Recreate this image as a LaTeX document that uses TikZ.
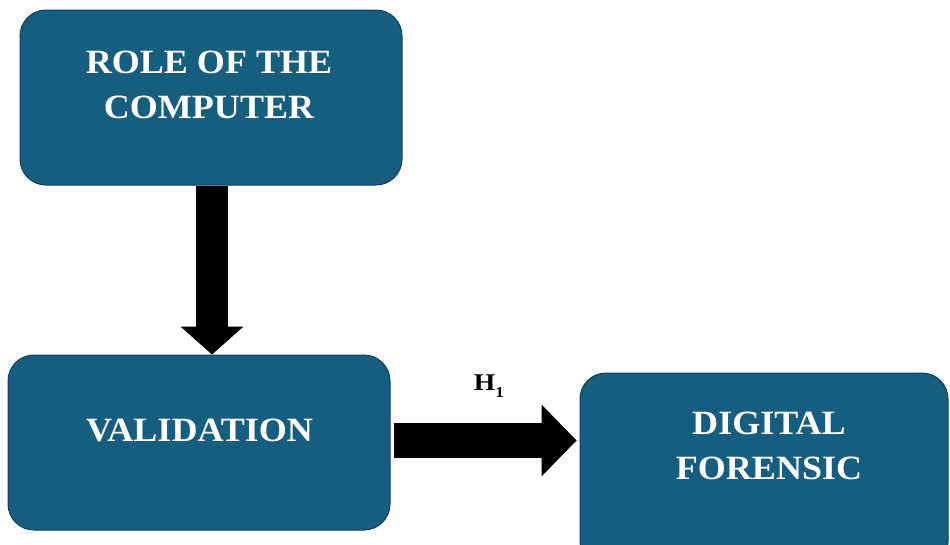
\documentclass[tikz,border=0pt]{standalone}
\usepackage{fontspec}
\setmainfont{Liberation Serif}
\usetikzlibrary{arrows.meta}
\definecolor{boxfill}{HTML}{165E80}
\definecolor{boxline}{HTML}{123F57}
\begin{document}
\begin{tikzpicture}[x=1pt,y=-1pt,
  box/.style={draw=boxline, line width=1pt, fill=boxfill, rounded corners=26pt, inner sep=0pt},
  boxtext/.style={text=white, align=center, inner sep=0pt,
    font=\fontsize{34}{45}\selectfont\bfseries},
  fatarrow/.style n args={4}{draw=black, line width=#1,
    -{Triangle[length=#2, width=#3, line width=0pt]}},
  hlabel/.style={font=\fontsize{24}{24}\selectfont\bfseries, inner sep=0pt}]
\useasboundingbox (0,0) rectangle (950,544);
% boxes
\node[box, minimum width=382pt, minimum height=175pt] (role) at (211,97.5) {};
\node[box, minimum width=382pt, minimum height=175pt] (valid) at (199,442.5) {};
\node[box, minimum width=368pt, minimum height=195pt] (digital) at (764,470.5) {};
% texts
\node[boxtext] (roletext) at (209,85) {\scalebox{1.06}[1]{ROLE OF THE}\\\scalebox{1.06}[1]{COMPUTER}};
\node[boxtext] (validtext) at (199.5,430) {\scalebox{1.06}[1]{VALIDATION}};
\node[boxtext] (digitaltext) at (769,446) {\scalebox{1.06}[1]{DIGITAL}\\\scalebox{1.06}[1]{FORENSIC}};
% arrows
\draw[fatarrow={32pt}{28pt}{63pt}] ([xshift=1pt]role.south) -- ([xshift=1pt]role.south |- valid.north);
\draw[fatarrow={35pt}{35pt}{72pt}] ([xshift=3pt,yshift=2pt]valid.east) -- ([xshift=-3pt,yshift=2pt]valid.east -| digital.west);
\node[hlabel] (h1) at (489,386) {\scalebox{1.15}[1]{H\raisebox{-0.3em}{\fontsize{15}{15}\selectfont 1}}};
\end{tikzpicture}
\end{document}
